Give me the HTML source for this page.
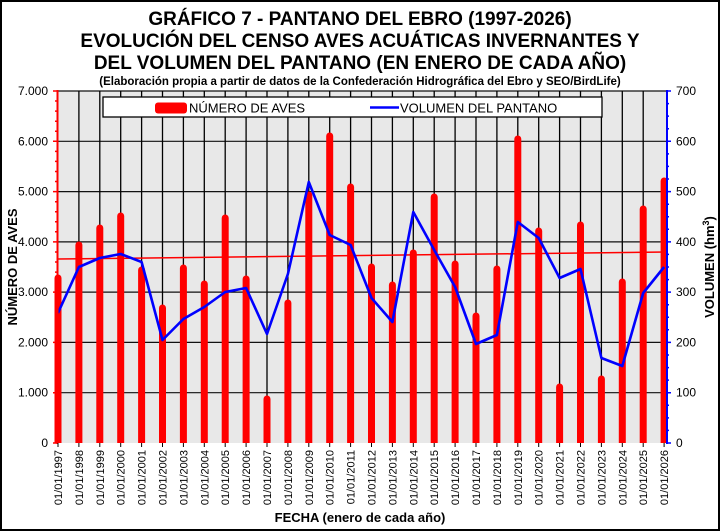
<!DOCTYPE html>
<html><head><meta charset="utf-8"><style>
html,body{margin:0;padding:0;background:#fff;}
svg{display:block;font-family:"Liberation Sans",Arial,sans-serif;}
</style></head><body>
<svg width="720" height="531" viewBox="0 0 720 531" xmlns="http://www.w3.org/2000/svg">
<rect x="1" y="1" width="718" height="529" fill="#fff" stroke="#000" stroke-width="2"/>
<g font-weight="bold" text-anchor="middle" fill="#000">
<text x="360" y="25" font-size="19">GRÁFICO 7 - PANTANO  DEL EBRO (1997-2026)</text>
<text x="360" y="47" font-size="19">EVOLUCIÓN DEL CENSO AVES ACUÁTICAS  INVERNANTES  Y</text>
<text x="360" y="69" font-size="19">DEL VOLUMEN DEL PANTANO  (EN ENERO DE CADA AÑO)</text>
<text x="360" y="85" font-size="11.5">(Elaboración propia a partir de datos de la Confederación Hidrográfica del Ebro y SEO/BirdLife)</text>
</g>
<rect x="58" y="90.5" width="608" height="352.5" fill="#e8e8e8"/>
<g stroke="#111" stroke-width="1.2">
<line x1="58" y1="91" x2="666" y2="91"/><line x1="58" y1="141.3" x2="666" y2="141.3"/><line x1="58" y1="191.6" x2="666" y2="191.6"/><line x1="58" y1="241.9" x2="666" y2="241.9"/><line x1="58" y1="292.1" x2="666" y2="292.1"/><line x1="58" y1="342.4" x2="666" y2="342.4"/><line x1="58" y1="392.7" x2="666" y2="392.7"/>
</g>
<g stroke="#000" stroke-width="1.3" id="vg">
<line x1="78.9" y1="91" x2="78.9" y2="443"/><line x1="99.8" y1="91" x2="99.8" y2="443"/><line x1="120.7" y1="91" x2="120.7" y2="443"/><line x1="141.6" y1="91" x2="141.6" y2="443"/><line x1="162.5" y1="91" x2="162.5" y2="443"/><line x1="183.4" y1="91" x2="183.4" y2="443"/><line x1="204.3" y1="91" x2="204.3" y2="443"/><line x1="225.2" y1="91" x2="225.2" y2="443"/><line x1="246.1" y1="91" x2="246.1" y2="443"/><line x1="267" y1="91" x2="267" y2="443"/><line x1="287.9" y1="91" x2="287.9" y2="443"/><line x1="308.8" y1="91" x2="308.8" y2="443"/><line x1="329.7" y1="91" x2="329.7" y2="443"/><line x1="350.6" y1="91" x2="350.6" y2="443"/><line x1="371.5" y1="91" x2="371.5" y2="443"/><line x1="392.4" y1="91" x2="392.4" y2="443"/><line x1="413.3" y1="91" x2="413.3" y2="443"/><line x1="434.2" y1="91" x2="434.2" y2="443"/><line x1="455.1" y1="91" x2="455.1" y2="443"/><line x1="476" y1="91" x2="476" y2="443"/><line x1="496.9" y1="91" x2="496.9" y2="443"/><line x1="517.8" y1="91" x2="517.8" y2="443"/><line x1="538.7" y1="91" x2="538.7" y2="443"/><line x1="559.6" y1="91" x2="559.6" y2="443"/><line x1="580.5" y1="91" x2="580.5" y2="443"/><line x1="601.4" y1="91" x2="601.4" y2="443"/><line x1="622.3" y1="91" x2="622.3" y2="443"/><line x1="643.2" y1="91" x2="643.2" y2="443"/>
</g>
<rect x="103" y="97" width="499" height="20" fill="#fff" stroke="#000" stroke-width="1.3"/>
<rect x="155" y="102.5" width="32" height="11" rx="3" fill="#f00"/>
<text x="189" y="112.5" font-size="13">NÚMERO DE AVES</text>
<line x1="370" y1="107.5" x2="399" y2="107.5" stroke="#00f" stroke-width="2.5"/>
<text x="400" y="112.5" font-size="13">VOLUMEN DEL PANTANO</text>
<defs><clipPath id="c"><rect x="40" y="80" width="640" height="363"/></clipPath></defs>
<g clip-path="url(#c)" stroke="#f00" stroke-width="7" stroke-linecap="round">
<line x1="58" y1="450" x2="58" y2="278"/><line x1="78.9" y1="450" x2="78.9" y2="245"/><line x1="99.8" y1="450" x2="99.8" y2="228"/><line x1="120.7" y1="450" x2="120.7" y2="216"/><line x1="141.6" y1="450" x2="141.6" y2="270"/><line x1="162.5" y1="450" x2="162.5" y2="308"/><line x1="183.4" y1="450" x2="183.4" y2="268"/><line x1="204.3" y1="450" x2="204.3" y2="284"/><line x1="225.2" y1="450" x2="225.2" y2="218"/><line x1="246.1" y1="450" x2="246.1" y2="279"/><line x1="267" y1="450" x2="267" y2="399"/><line x1="287.9" y1="450" x2="287.9" y2="303"/><line x1="308.8" y1="450" x2="308.8" y2="195"/><line x1="329.7" y1="450" x2="329.7" y2="136"/><line x1="350.6" y1="450" x2="350.6" y2="187"/><line x1="371.5" y1="450" x2="371.5" y2="267"/><line x1="392.4" y1="450" x2="392.4" y2="285"/><line x1="413.3" y1="450" x2="413.3" y2="253"/><line x1="434.2" y1="450" x2="434.2" y2="197"/><line x1="455.1" y1="450" x2="455.1" y2="264"/><line x1="476" y1="450" x2="476" y2="316"/><line x1="496.9" y1="450" x2="496.9" y2="269"/><line x1="517.8" y1="450" x2="517.8" y2="139"/><line x1="538.7" y1="450" x2="538.7" y2="231"/><line x1="559.6" y1="450" x2="559.6" y2="387"/><line x1="580.5" y1="450" x2="580.5" y2="225"/><line x1="601.4" y1="450" x2="601.4" y2="379"/><line x1="622.3" y1="450" x2="622.3" y2="282"/><line x1="643.2" y1="450" x2="643.2" y2="209"/><line x1="664.1" y1="450" x2="664.1" y2="181"/>
</g>
<line x1="58" y1="259" x2="666" y2="252" stroke="#f00" stroke-width="1.5"/>
<polyline fill="none" stroke="#00f" stroke-width="2.6" stroke-linejoin="round" points="58,313 78.9,267 99.8,258 120.7,254 141.6,262 162.5,340 183.4,319 204.3,307 225.2,292 246.1,288 267,334 287.9,274 308.8,182 329.7,235 350.6,245 371.5,298 392.4,322 413.3,212 434.2,250 455.1,287 476,344 496.9,335 517.8,222 538.7,238 559.6,278 580.5,269 601.4,358 622.3,366 643.2,293 664.1,267"/>
<line x1="57.5" y1="90" x2="57.5" y2="444" stroke="#f00" stroke-width="2"/>
<g stroke="#f00" stroke-width="1.5">
<path d="M53 91h5M53 141.3h5M53 191.6h5M53 241.9h5M53 292.1h5M53 342.4h5M53 392.7h5M53 443h5"/>
<path d="M55 101h3M55 111.1h3M55 121.2h3M55 131.2h3M55 151.4h3M55 161.4h3M55 171.5h3M55 181.5h3M55 201.7h3M55 211.7h3M55 221.8h3M55 231.8h3M55 252h3M55 262h3M55 272.1h3M55 282.1h3M55 302.2h3M55 312.3h3M55 322.3h3M55 332.4h3M55 352.5h3M55 362.6h3M55 372.6h3M55 382.7h3M55 402.8h3M55 412.9h3M55 422.9h3M55 433h3"/>
</g>
<line x1="667" y1="90" x2="667" y2="444" stroke="#00f" stroke-width="2"/>
<g stroke="#00f" stroke-width="1.5">
<path d="M666 91h5M666 141.3h5M666 191.6h5M666 241.9h5M666 292.1h5M666 342.4h5M666 392.7h5M666 443h5"/>
<path d="M666 103.6h3M666 116.1h3M666 128.7h3M666 153.9h3M666 166.4h3M666 179h3M666 204.2h3M666 216.7h3M666 229.3h3M666 254.4h3M666 267h3M666 279.6h3M666 304.7h3M666 317.3h3M666 329.8h3M666 355h3M666 367.6h3M666 380.1h3M666 405.3h3M666 417.9h3M666 430.4h3"/>
</g>
<g font-size="12" text-anchor="end" fill="#000">
<text x="48" y="95">7.000</text><text x="48" y="145.3">6.000</text><text x="48" y="195.6">5.000</text><text x="48" y="245.9">4.000</text><text x="48" y="296.1">3.000</text><text x="48" y="346.4">2.000</text><text x="48" y="396.7">1.000</text><text x="48" y="447">0</text>
</g>
<g font-size="12" fill="#000">
<text x="676" y="95">700</text><text x="676" y="145.3">600</text><text x="676" y="195.6">500</text><text x="676" y="245.9">400</text><text x="676" y="296.1">300</text><text x="676" y="346.4">200</text><text x="676" y="396.7">100</text><text x="676" y="447">0</text>
</g>
<g stroke="#000" stroke-width="1"><path d="M58 443v4M78.9 443v4M99.8 443v4M120.7 443v4M141.6 443v4M162.5 443v4M183.4 443v4M204.3 443v4M225.2 443v4M246.1 443v4M267 443v4M287.9 443v4M308.8 443v4M329.7 443v4M350.6 443v4M371.5 443v4M392.4 443v4M413.3 443v4M434.2 443v4M455.1 443v4M476 443v4M496.9 443v4M517.8 443v4M538.7 443v4M559.6 443v4M580.5 443v4M601.4 443v4M622.3 443v4M643.2 443v4M664.1 443v4"/></g>
<g font-size="11" text-anchor="end" fill="#000">
<text transform="translate(62,450) rotate(-90)">01/01/1997</text>
<text transform="translate(82.9,450) rotate(-90)">01/01/1998</text>
<text transform="translate(103.8,450) rotate(-90)">01/01/1999</text>
<text transform="translate(124.7,450) rotate(-90)">01/01/2000</text>
<text transform="translate(145.6,450) rotate(-90)">01/01/2001</text>
<text transform="translate(166.5,450) rotate(-90)">01/01/2002</text>
<text transform="translate(187.4,450) rotate(-90)">01/01/2003</text>
<text transform="translate(208.3,450) rotate(-90)">01/01/2004</text>
<text transform="translate(229.2,450) rotate(-90)">01/01/2005</text>
<text transform="translate(250.1,450) rotate(-90)">01/01/2006</text>
<text transform="translate(271,450) rotate(-90)">01/01/2007</text>
<text transform="translate(291.9,450) rotate(-90)">01/01/2008</text>
<text transform="translate(312.8,450) rotate(-90)">01/01/2009</text>
<text transform="translate(333.7,450) rotate(-90)">01/01/2010</text>
<text transform="translate(354.6,450) rotate(-90)">01/01/2011</text>
<text transform="translate(375.5,450) rotate(-90)">01/01/2012</text>
<text transform="translate(396.4,450) rotate(-90)">01/01/2013</text>
<text transform="translate(417.3,450) rotate(-90)">01/01/2014</text>
<text transform="translate(438.2,450) rotate(-90)">01/01/2015</text>
<text transform="translate(459.1,450) rotate(-90)">01/01/2016</text>
<text transform="translate(480,450) rotate(-90)">01/01/2017</text>
<text transform="translate(500.9,450) rotate(-90)">01/01/2018</text>
<text transform="translate(521.8,450) rotate(-90)">01/01/2019</text>
<text transform="translate(542.7,450) rotate(-90)">01/01/2020</text>
<text transform="translate(563.6,450) rotate(-90)">01/01/2021</text>
<text transform="translate(584.5,450) rotate(-90)">01/01/2022</text>
<text transform="translate(605.4,450) rotate(-90)">01/01/2023</text>
<text transform="translate(626.3,450) rotate(-90)">01/01/2024</text>
<text transform="translate(647.2,450) rotate(-90)">01/01/2025</text>
<text transform="translate(668.1,450) rotate(-90)">01/01/2026</text>
</g>
<text x="360" y="522" font-size="13" font-weight="bold" text-anchor="middle">FECHA (enero de cada año)</text>
<text transform="translate(17,267) rotate(-90)" font-size="13" font-weight="bold" text-anchor="middle">NÚMERO DE AVES</text>
<text transform="translate(714,267) rotate(-90)" font-size="13" font-weight="bold" text-anchor="middle">VOLUMEN (hm<tspan font-size="9" dy="-5">3</tspan><tspan dy="5">)</tspan></text>
</svg>
</body></html>
